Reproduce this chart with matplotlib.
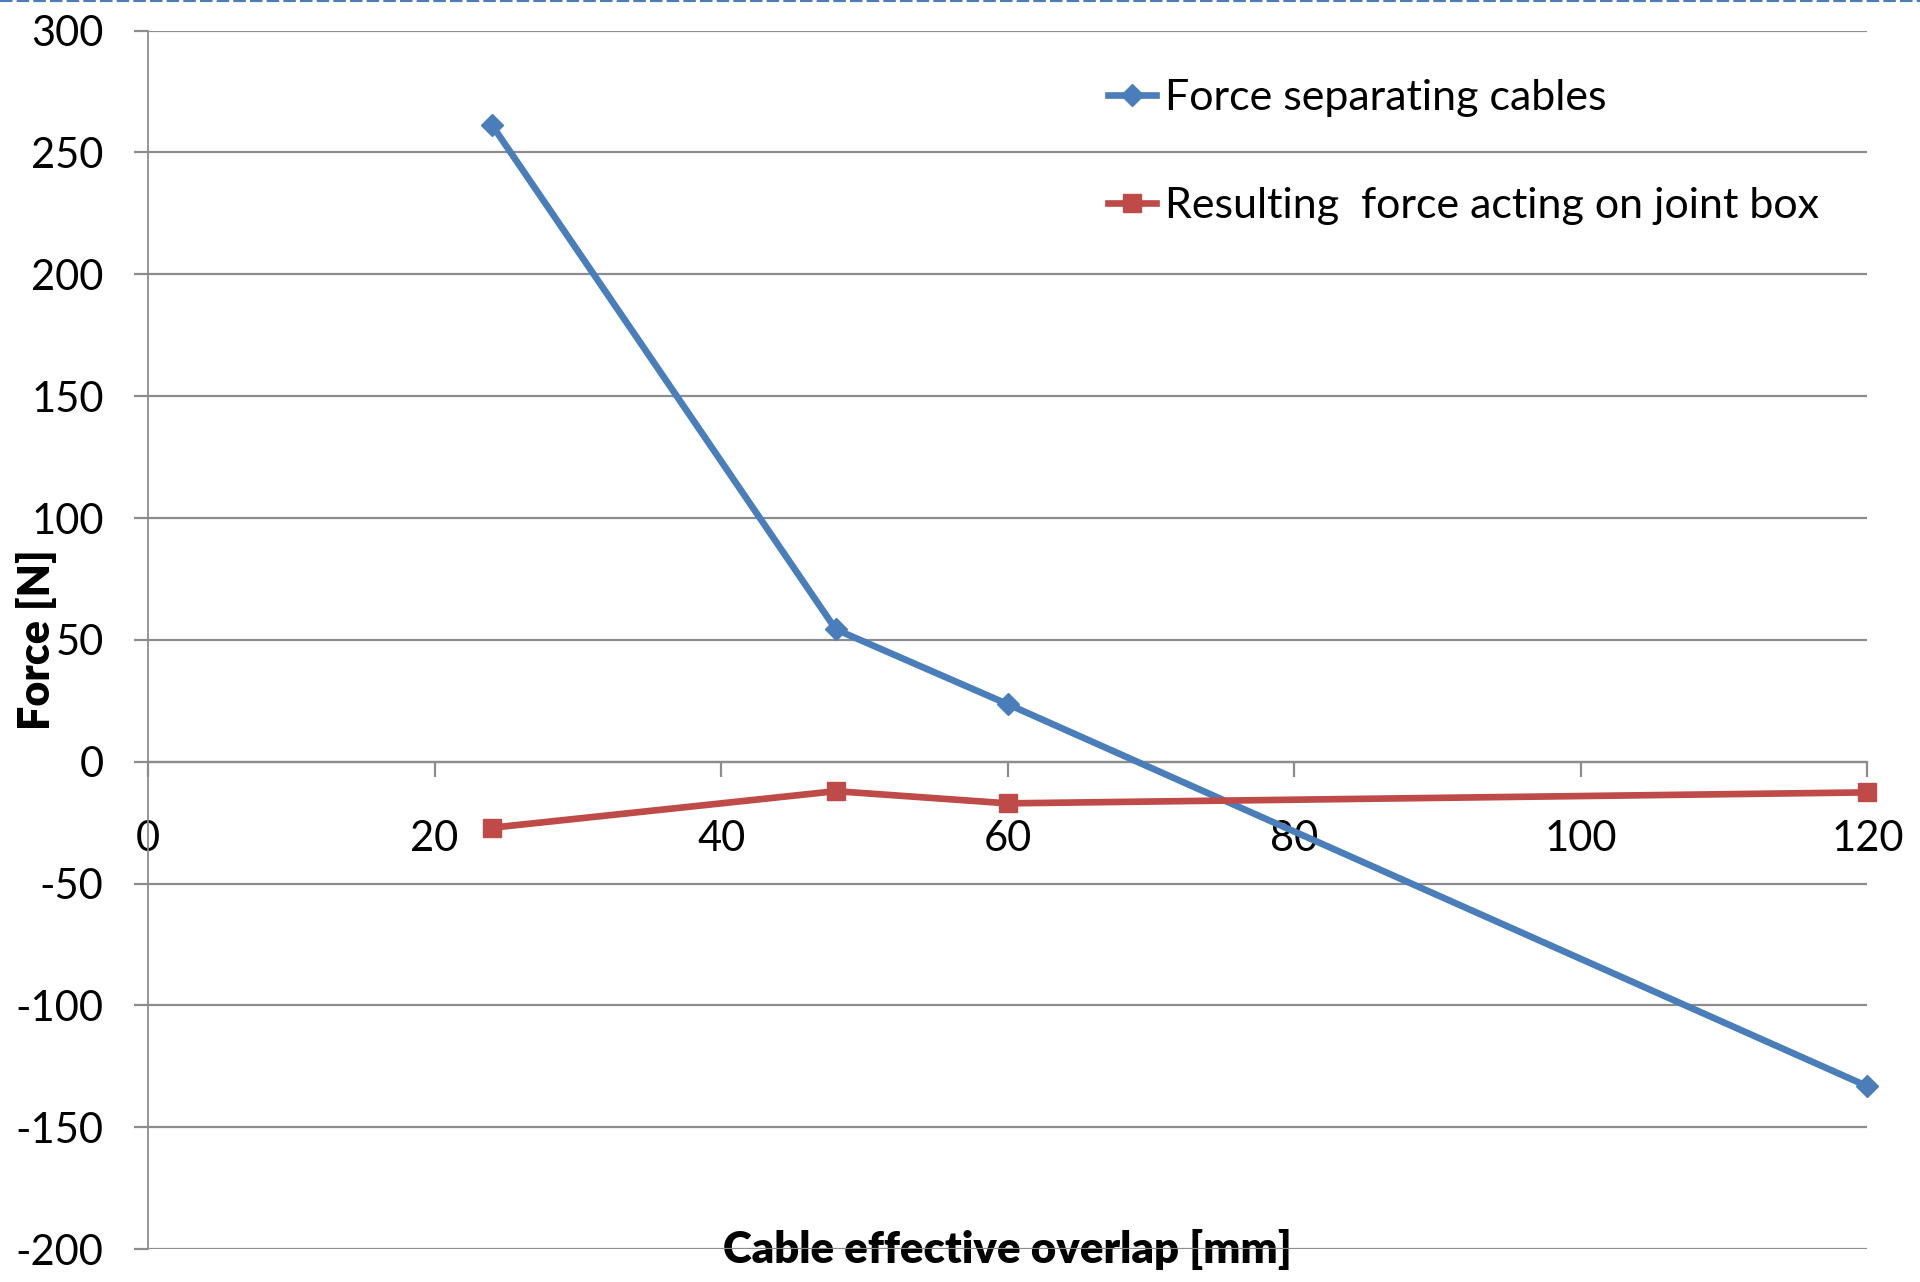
import matplotlib
matplotlib.use("Agg")
import matplotlib.pyplot as plt
from matplotlib.lines import Line2D

plt.rcParams['font.family'] = ['Lato', 'DejaVu Sans']

overlap_mm = [24, 48, 60, 120]
force_separating = [261.3, 54.3, 23.6, -133.2]
force_joint_box = [-27.1, -12.1, -17.1, -12.6]
series_labels = ["Force separating cables", "Resulting  force acting on joint box"]
x_ticks = [0, 20, 40, 60, 80, 100, 120]
y_ticks = [-200, -150, -100, -50, 0, 50, 100, 150, 200, 250, 300]
x_label = "Cable effective overlap [mm]"
y_label = "Force [N]"

blue = "#4a7ebb"
red = "#be4b48"
grid_c = "#8c8c8c"

fig = plt.figure(figsize=(19.2, 12.82), dpi=100)
ax = fig.add_axes([0.0771, 0.0257, 0.8955, 0.9504])

ax.plot(overlap_mm, force_separating, color=blue, lw=4.8, marker='D', ms=11.5,
        label=series_labels[0], zorder=4, clip_on=False)
ax.plot(overlap_mm, force_joint_box, color=red, lw=4.8, marker='s', ms=13.5,
        label=series_labels[1], zorder=4, clip_on=False)

ax.set_xlim(0, 120)
ax.set_ylim(-200, 300)
ax.set_xticks(x_ticks)
ax.set_yticks(y_ticks)
ax.set_yticklabels([str(v) for v in y_ticks])

ax.grid(axis='y', color=grid_c, lw=1.6, zorder=0)
for s in ['top', 'right']:
    ax.spines[s].set_visible(False)
ax.spines['left'].set_color(grid_c)
ax.spines['left'].set_linewidth(1.3)
ax.spines['bottom'].set_position(('data', 0))
ax.spines['bottom'].set_color(grid_c)
ax.spines['bottom'].set_linewidth(1.6)

ax.tick_params(axis='x', direction='out', length=11, width=1.6, color=grid_c,
               pad=31, labelsize=30)
ax.tick_params(axis='y', direction='out', length=10, width=1.6, color=grid_c,
               pad=22, labelsize=30)

ax.set_xlabel(x_label, fontsize=31.5, fontweight='heavy')
ax.xaxis.set_label_coords(0.5, 0.0)
ax.xaxis.label.set_va('center')
ax.xaxis.label.set_zorder(6)
ax.set_ylabel(y_label, fontsize=31, fontweight='heavy')
ax.yaxis.set_label_coords(-0.0646, 0.5)
ax.yaxis.label.set_va('center')

leg = ax.legend(loc='upper left', bbox_to_anchor=(0.577, 0.938),
                bbox_transform=fig.transFigure, frameon=False, fontsize=31,
                handlelength=1.13, handletextpad=0.2, labelspacing=1.62,
                borderpad=0, borderaxespad=0, markerscale=0.95)

# thin blue frame artifact at top of image
fig.add_artist(Line2D([0, 1], [0.999, 0.999], transform=fig.transFigure,
                      color=blue, lw=1.5, ls=(0, (6, 2))))

fig.savefig("out.png", dpi=100)
